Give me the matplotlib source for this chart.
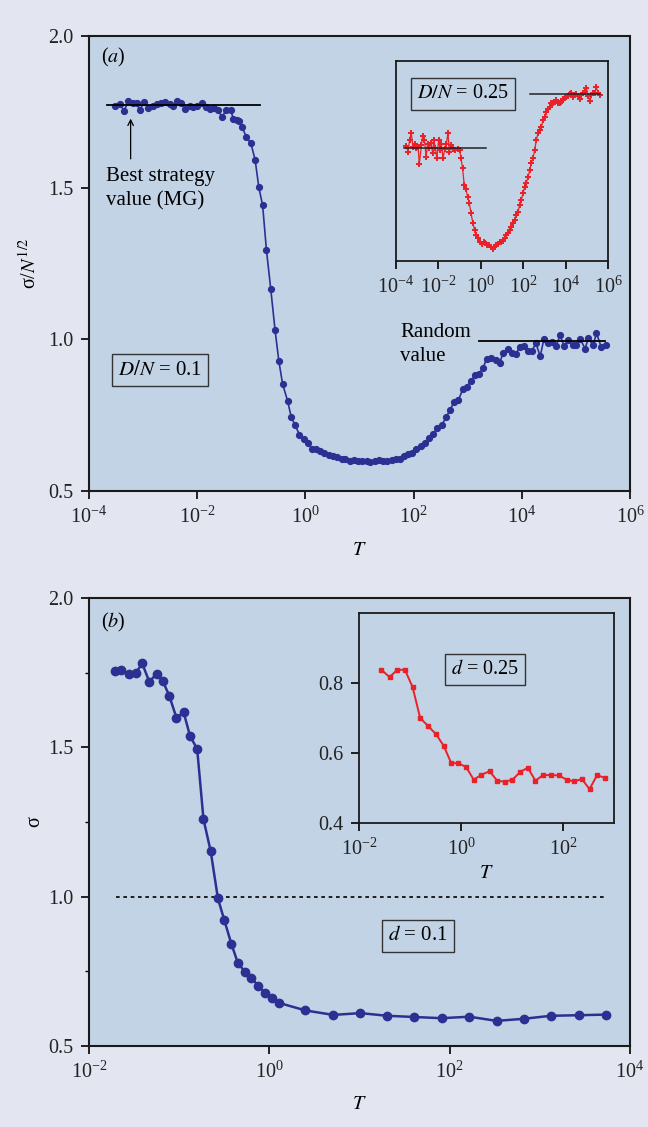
import numpy as np
import matplotlib.pyplot as plt
from matplotlib.ticker import FixedLocator, NullLocator, LogFormatterSciNotation, FormatStrFormatter

plt.rcParams['font.family'] = ['Liberation Serif', 'DejaVu Serif']
plt.rcParams['mathtext.fontset'] = 'stix'

BG = '#e3e6f1'
AXBG = '#c2d3e5'
BLUE = '#2b3193'
RED = '#ea2128'

# panel (a): D/N = 0.1, log10(T) and sigma/N^1/2
logT_a = [-3.52, -3.43, -3.35, -3.27, -3.19, -3.12, -3.06, -2.98, -2.90, -2.82,
          -2.75, -2.67, -2.59, -2.51, -2.44, -2.38, -2.30, -2.22, -2.14, -2.07,
          -2.00, -1.91, -1.84, -1.76, -1.69, -1.62, -1.54, -1.46, -1.38, -1.33,
          -1.26, -1.22, -1.17, -1.09, -1.01, -0.93, -0.86, -0.79,
          -0.72, -0.64, -0.56, -0.49, -0.42, -0.33, -0.26, -0.19, -0.11, -0.03,
          0.04, 0.12, 0.19, 0.27, 0.34, 0.43, 0.51, 0.58, 0.67, 0.74,
          0.82, 0.89, 0.97, 1.05, 1.13, 1.20, 1.28, 1.36, 1.44, 1.51,
          1.60, 1.67, 1.75, 1.83, 1.90, 1.98, 2.05, 2.14, 2.21, 2.29,
          2.36, 2.44, 2.52, 2.60, 2.67, 2.75, 2.83, 2.91, 2.98, 3.06,
          3.13, 3.21, 3.28, 3.35, 3.43, 3.52, 3.59, 3.66, 3.74, 3.81,
          3.89, 3.96, 4.04, 4.11, 4.19, 4.26, 4.34, 4.41, 4.48, 4.56,
          4.63, 4.71, 4.78, 4.86, 4.94, 5.01, 5.08, 5.17, 5.23, 5.32,
          5.38, 5.47, 5.55]
sig_a = [1.769, 1.775, 1.754, 1.787, 1.780, 1.778, 1.756, 1.783, 1.764, 1.769,
         1.776, 1.778, 1.782, 1.776, 1.771, 1.787, 1.778, 1.760, 1.769, 1.767,
         1.769, 1.778, 1.765, 1.758, 1.762, 1.756, 1.734, 1.756, 1.756, 1.726,
         1.723, 1.721, 1.701, 1.666, 1.648, 1.593, 1.501, 1.442,
         1.295, 1.166, 1.030, 0.928, 0.852, 0.798, 0.743, 0.717, 0.686, 0.671,
         0.659, 0.640, 0.638, 0.632, 0.624, 0.618, 0.614, 0.611, 0.607, 0.605,
         0.600, 0.602, 0.600, 0.600, 0.600, 0.596, 0.600, 0.603, 0.600, 0.599,
         0.602, 0.604, 0.605, 0.616, 0.621, 0.625, 0.637, 0.649, 0.657, 0.675,
         0.689, 0.708, 0.717, 0.743, 0.766, 0.794, 0.800, 0.836, 0.844, 0.862,
         0.882, 0.886, 0.904, 0.936, 0.939, 0.931, 0.923, 0.956, 0.967, 0.955,
         0.952, 0.974, 0.979, 0.961, 0.961, 0.988, 0.944, 1.002, 0.989, 0.990,
         0.978, 1.013, 0.979, 0.997, 0.980, 0.982, 1.002, 0.969, 1.004, 0.980,
         1.021, 0.974, 0.982]
best_a = 1.772
rand_a = 0.995

# inset of (a): D/N = 0.25
logT_ai = [-3.51, -3.43, -3.36, -3.28, -3.20, -3.12, -3.04, -2.96, -2.90, -2.80,
           -2.74, -2.66, -2.58, -2.51, -2.43, -2.35, -2.27, -2.22, -2.14, -2.07,
           -1.99, -1.91, -1.86, -1.78, -1.70, -1.63, -1.55, -1.48, -1.41, -1.31,
           -1.20, -1.09, -1.00, -0.93, -0.86, -0.78, -0.70, -0.62, -0.54, -0.46,
           -0.37, -0.29, -0.21, -0.12, -0.02, 0.06, 0.14, 0.21, 0.29, 0.40,
           0.48, 0.56, 0.64, 0.72, 0.81, 0.89, 0.97, 1.05, 1.13, 1.20,
           1.28, 1.36, 1.44, 1.52, 1.60, 1.68, 1.76, 1.83, 1.91, 1.99,
           2.07, 2.15, 2.23, 2.31, 2.38, 2.46, 2.54, 2.62, 2.70, 2.78,
           2.86, 2.93, 3.01, 3.09, 3.17, 3.25, 3.33, 3.41, 3.48, 3.56,
           3.64, 3.72, 3.80, 3.88, 3.96, 4.03, 4.11, 4.19, 4.27, 4.35,
           4.43, 4.51, 4.59, 4.66, 4.74, 4.82, 4.90, 4.98, 5.06, 5.14,
           5.21, 5.29, 5.37, 5.45, 5.53, 5.61]
sig_ai = [0.816, 0.795, 0.837, 0.861, 0.813, 0.821, 0.807, 0.813, 0.752, 0.819,
          0.851, 0.837, 0.778, 0.821, 0.807, 0.827, 0.790, 0.837, 0.807, 0.772,
          0.837, 0.801, 0.821, 0.772, 0.804, 0.821, 0.861, 0.795, 0.819, 0.804,
          0.801, 0.805, 0.801, 0.772, 0.736, 0.677, 0.662, 0.636, 0.612, 0.577,
          0.541, 0.518, 0.500, 0.488, 0.476, 0.470, 0.476, 0.473, 0.465, 0.465,
          0.459, 0.450, 0.459, 0.465, 0.467, 0.474, 0.476, 0.480, 0.488, 0.500,
          0.508, 0.518, 0.530, 0.541, 0.553, 0.571, 0.583, 0.606, 0.624, 0.648,
          0.671, 0.686, 0.707, 0.730, 0.754, 0.772, 0.801, 0.837, 0.861, 0.872,
          0.882, 0.908, 0.920, 0.937, 0.946, 0.953, 0.967, 0.969, 0.973, 0.979,
          0.969, 0.967, 0.973, 0.981, 0.985, 0.988, 0.993, 1.000, 1.002, 0.991,
          0.996, 1.000, 0.993, 0.981, 0.996, 1.002, 1.008, 1.020, 0.993, 0.976,
          0.996, 1.002, 1.005, 1.024, 1.002, 0.996]
best_ai = 0.810
rand_ai = 1.001

# panel (b): d = 0.1
logT_b = [-1.71, -1.64, -1.56, -1.48, -1.41, -1.33, -1.25, -1.18, -1.11, -1.03,
          -0.95, -0.88, -0.80, -0.73, -0.65, -0.57, -0.50, -0.42, -0.35, -0.27,
          -0.20, -0.12, -0.05, 0.03, 0.11, 0.40, 0.71, 1.01, 1.31, 1.61,
          1.91, 2.22, 2.52, 2.82, 3.12, 3.43, 3.73]
sig_b = [1.756, 1.758, 1.745, 1.749, 1.781, 1.719, 1.747, 1.721, 1.673, 1.599,
         1.617, 1.539, 1.494, 1.259, 1.152, 0.994, 0.922, 0.841, 0.779, 0.748,
         0.729, 0.700, 0.679, 0.659, 0.644, 0.619, 0.604, 0.610, 0.601, 0.597,
         0.593, 0.598, 0.584, 0.591, 0.601, 0.603, 0.605]

# inset of (b): d = 0.25
logT_bi = [-1.56, -1.40, -1.25, -1.10, -0.95, -0.80, -0.65, -0.49, -0.34, -0.19,
           -0.05, 0.10, 0.25, 0.40, 0.56, 0.71, 0.86, 1.01, 1.16, 1.31,
           1.46, 1.61, 1.76, 1.92, 2.07, 2.22, 2.37, 2.52, 2.67, 2.82]
sig_bi = [0.838, 0.817, 0.838, 0.838, 0.789, 0.700, 0.678, 0.654, 0.621, 0.571,
          0.571, 0.560, 0.524, 0.538, 0.548, 0.521, 0.518, 0.524, 0.546, 0.558,
          0.521, 0.537, 0.537, 0.536, 0.524, 0.519, 0.526, 0.497, 0.537, 0.529]

FS = 14.5


def style(ax, lw=1.5):
    ax.set_facecolor(AXBG)
    for s in ax.spines.values():
        s.set_linewidth(lw)
        s.set_color('#1a1a1a')
    ax.tick_params(direction='out', length=6, width=1.2, labelsize=FS, pad=5,
                   labelcolor='#222222')
    ax.xaxis.set_minor_locator(NullLocator())
    ax.yaxis.set_minor_locator(NullLocator())


box = dict(boxstyle='square,pad=0.3', fc='none', ec='#333333', lw=1)

fig = plt.figure(figsize=(6.48, 11.27), dpi=100, facecolor=BG)

# ---- panel (a)
ax = fig.add_axes([0.1373, 0.5643, 0.8349, 0.4037])
style(ax)
ax.set_xscale('log')
ax.set_xlim(1e-4, 1e6)
ax.set_ylim(0.5, 2.0)
ax.plot(10 ** np.array(logT_a), sig_a, '-o', color=BLUE, lw=1.2, ms=4.2)
ax.plot([10 ** -3.67, 10 ** -0.83], [best_a, best_a], color='k', lw=1.3)
ax.plot([10 ** 3.2, 10 ** 5.54], [rand_a, rand_a], color='k', lw=1.3)
ax.xaxis.set_major_locator(FixedLocator([1e-4, 1e-2, 1, 1e2, 1e4, 1e6]))
ax.xaxis.set_major_formatter(LogFormatterSciNotation())
ax.xaxis.set_minor_locator(NullLocator())
ax.set_yticks([0.5, 1.0, 1.5, 2.0])
ax.yaxis.set_major_formatter(FormatStrFormatter('%.1f'))
ax.set_xlabel('$T$', fontsize=FS, labelpad=10)
ax.set_ylabel('σ/$N^{1/2}$', fontsize=FS, labelpad=6)
ax.text(0.022, 0.954, '($a$)', transform=ax.transAxes, fontsize=FS, va='center')
ax.text(0.031, 0.664, 'Best strategy\nvalue (MG)', transform=ax.transAxes,
        fontsize=15, va='center', linespacing=1.4)
ax.annotate('', xy=(10 ** -3.23, 1.737), xytext=(10 ** -3.23, 1.586),
            arrowprops=dict(arrowstyle='->', lw=0.9, color='k'))
ax.text(0.575, 0.323, 'Random\nvalue', transform=ax.transAxes,
        fontsize=15, va='center', linespacing=1.35)
ax.text(0.131, 0.266, '$D/N$ = 0.1', transform=ax.transAxes, fontsize=15,
        ha='center', va='center', bbox=box)

# inset of (a)
axi = fig.add_axes([0.6111, 0.7684, 0.3272, 0.1775])
style(axi, lw=1.3)
axi.set_xscale('log')
axi.set_xlim(1e-4, 1e6)
axi.set_ylim(0.408, 1.117)
axi.plot(10 ** np.array(logT_ai), sig_ai, '-', color=RED, lw=0.9,
         marker='+', ms=4, mew=1.4)
axi.plot([10 ** -3.64, 10 ** 0.26], [best_ai, best_ai], color='#222222', lw=1.1)
axi.plot([10 ** 2.31, 10 ** 5.61], [rand_ai, rand_ai], color='#222222', lw=1.1)
axi.xaxis.set_major_locator(FixedLocator([1e-4, 1e-2, 1, 1e2, 1e4, 1e6]))
axi.xaxis.set_major_formatter(LogFormatterSciNotation())
axi.xaxis.set_minor_locator(NullLocator())
axi.set_yticks([])
axi.tick_params(axis='x', labelsize=FS, length=6)
axi.text(0.316, 0.835, '$D/N$ = 0.25', transform=axi.transAxes, fontsize=FS,
         ha='center', va='center', bbox=box)

# ---- panel (b)
bx = fig.add_axes([0.1373, 0.0719, 0.8349, 0.3975])
style(bx)
bx.set_xscale('log')
bx.set_xlim(1e-2, 1e4)
bx.set_ylim(0.5, 2.0)
bx.plot([10 ** -1.70, 10 ** 3.73], [1.0, 1.0], color='k', lw=1.2,
        ls=(0, (2.2, 2.2)))
bx.plot(10 ** np.array(logT_b), sig_b, '-o', color=BLUE, lw=1.8, ms=6)
bx.xaxis.set_major_locator(FixedLocator([1e-2, 1, 1e2, 1e4]))
bx.xaxis.set_major_formatter(LogFormatterSciNotation())
bx.xaxis.set_minor_locator(NullLocator())
bx.set_yticks([0.5, 1.0, 1.5, 2.0])
bx.yaxis.set_minor_locator(FixedLocator([0.75, 1.25, 1.75]))
bx.tick_params(axis='y', which='minor', direction='out', length=3, width=1)
bx.yaxis.set_major_formatter(FormatStrFormatter('%.1f'))
bx.set_xlabel('$T$', fontsize=FS, labelpad=9)
bx.set_ylabel('σ', fontsize=FS, labelpad=3)
bx.text(0.022, 0.946, '($b$)', transform=bx.transAxes, fontsize=FS, va='center')
bx.text(0.608, 0.246, '$d$ = 0.1', transform=bx.transAxes, fontsize=15,
        ha='center', va='center', bbox=box)

# inset of (b)
bxi = fig.add_axes([0.5540, 0.2697, 0.3935, 0.1863])
style(bxi, lw=1.3)
bxi.set_xscale('log')
bxi.set_xlim(1e-2, 1e3)
bxi.set_ylim(0.4, 1.0)
bxi.plot(10 ** np.array(logT_bi), sig_bi, '-s', color=RED, lw=1.4, ms=3.2)
bxi.xaxis.set_major_locator(FixedLocator([1e-2, 1, 1e2]))
bxi.xaxis.set_major_formatter(LogFormatterSciNotation())
bxi.xaxis.set_minor_locator(NullLocator())
bxi.set_yticks([0.4, 0.6, 0.8])
bxi.yaxis.set_major_formatter(FormatStrFormatter('%.1f'))
bxi.set_xlabel('$T$', fontsize=FS, labelpad=3)
bxi.text(0.494, 0.733, '$d$ = 0.25', transform=bxi.transAxes, fontsize=FS,
         ha='center', va='center', bbox=box)

fig.savefig('out.png', dpi=100, facecolor=BG)
